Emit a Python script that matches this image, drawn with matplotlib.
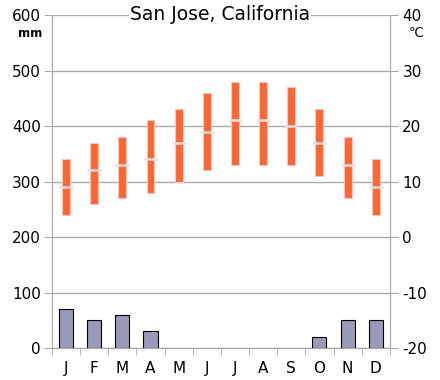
import matplotlib
matplotlib.use("Agg")
import matplotlib.pyplot as plt
import numpy as np

# Klimadaten San Jose
months = ["J", "F", "M", "A", "M", "J", "J", "A", "S", "O", "N", "D"]
precip_mm = [70, 50, 60, 30, 0, 0, 0, 0, 0, 20, 50, 50]
temp_max = [14, 17, 18, 21, 23, 26, 28, 28, 27, 23, 18, 14]
temp_min = [4, 6, 7, 8, 10, 12, 13, 13, 13, 11, 7, 4]
temp_mean = [9, 12, 13, 14, 17, 19, 21, 21, 20, 17, 13, 9]

mm_ticks = [0, 100, 200, 300, 400, 500, 600]
c_ticks = [-20, -10, 0, 10, 20, 30, 40]


def main():
    grey = "#aaaaaa"
    plt.rcParams["font.family"] = ["DejaVu Sans"]

    fig = plt.figure(figsize=(4.4, 3.8), dpi=100)
    ax = fig.add_axes([0.118, 0.084, 0.768, 0.8765])
    x = np.arange(len(months))

    # Niederschlag (keine Kante bei 0 mm)
    edges = ["black" if p > 0 else "none" for p in precip_mm]
    ax.bar(x, precip_mm, width=0.5, color="#9999bb", edgecolor=edges, linewidth=0.8, zorder=3)
    ax.set_ylim(0, 600)
    ax.set_xlim(-0.5, 11.5)
    ax.set_yticks(mm_ticks)
    ax.set_yticklabels([str(v) for v in mm_ticks], fontsize=11)
    ax.grid(axis="y", color=grey, linewidth=1, zorder=0)
    ax.tick_params(axis="y", length=6, color=grey, pad=2)

    ax.set_xticks(x)
    ax.set_xticklabels(months, fontsize=11)
    ax.set_xticks(np.arange(-0.5, 12, 1), minor=True)
    ax.tick_params(axis="x", which="major", length=0, pad=9)
    ax.tick_params(axis="x", which="minor", length=5, color=grey)
    for s in ax.spines.values():
        s.set_color(grey)
    ax.spines["top"].set_visible(False)

    # Temperatur
    ax2 = ax.twinx()
    ax2.set_ylim(-20, 40)
    tmax = np.array(temp_max)
    tmin = np.array(temp_min)
    ax2.bar(x, tmax - tmin, bottom=tmin, width=0.28, color="#ff6633",
            edgecolor="#f0c8c0", linewidth=0.8, zorder=3)
    ax2.hlines(temp_mean, x - 0.25, x + 0.25, color="#eedddd", linewidth=1.8, zorder=4)
    ax2.set_yticks(c_ticks)
    ax2.set_yticklabels([str(v) for v in c_ticks], fontsize=11)
    ax2.tick_params(axis="y", length=6, color=grey, pad=3)
    for s in ax2.spines.values():
        s.set_color(grey)
    ax2.spines["top"].set_visible(False)

    fig.text(0.068, 0.912, "mm", fontsize=8.5, fontweight="bold", ha="center", va="center")
    fig.text(0.945, 0.912, "℃", fontsize=9.5, ha="center", va="center")
    fig.text(0.5, 0.962, "San Jose, California", fontsize=13.5, ha="center", va="center",
             bbox=dict(facecolor="white", edgecolor="none", pad=1))

    plt.savefig("out.png")


if __name__ == "__main__":
    main()
